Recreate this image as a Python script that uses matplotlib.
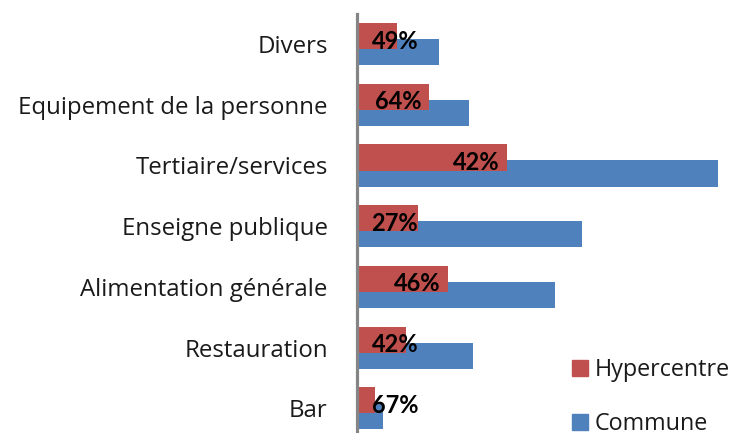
#%% IMPORT

import numpy as np
import matplotlib.pyplot as plt

#%% DONNÉES

categories = ['Divers', 'Equipement de la personne', 'Tertiaire/services',
              'Enseigne publique', 'Alimentation générale', 'Restauration', 'Bar']
hypercentre = [16, 28.8, 60, 24.4, 36.4, 19.6, 7]
commune = [32.8, 44.8, 144.4, 90, 79.2, 46.4, 10.4]

rouge = '#C0504D'
bleu = '#4F81BD'

#%% FIGURE

plt.rcParams['font.family'] = ['Open Sans', 'DejaVu Sans']

fig = plt.figure(figsize=(7.4, 4.33), dpi=100)
W, H = 740, 433
ax = fig.add_axes([357/W, -5.7/H, (730-357)/W, (438.7-13.7)/H])

y = np.arange(len(categories))
ep = 0.43
ax.barh(y + 0.132, commune, height=ep, color=bleu, zorder=2)
ax.barh(y - 0.132, hypercentre, height=ep, color=rouge, zorder=3)

# part de l'hypercentre dans la commune
for i in range(len(categories)):
    part = hypercentre[i] / commune[i] * 100
    xt = max(hypercentre[i] - 3, 24.5)
    ax.text(xt, y[i] - 0.05, '%d%%' % round(part), ha='right', va='center',
            fontsize=17, fontweight='bold', color='black', zorder=4,
            family=['Lato', 'DejaVu Sans'])

ax.set_xlim(0, 149.2)
ax.set_ylim(6.5, -0.5)
ax.set_yticks(y)
ax.set_yticklabels(categories, fontsize=17.3, color='#1a1a1a')
ax.tick_params(axis='y', length=0, pad=21)
ax.set_xticks([])

for s in ['top', 'right', 'bottom']:
    ax.spines[s].set_visible(False)
ax.spines['left'].set_color('#858585')
ax.spines['left'].set_linewidth(2.3)
ax.spines['left'].set_zorder(5)

#%% LÉGENDE

h1 = plt.Rectangle((0, 0), 1, 1, color=rouge)
h2 = plt.Rectangle((0, 0), 1, 1, color=bleu)
fig.legend([h1, h2], ['Hypercentre', 'Commune'], loc='upper left',
           bbox_to_anchor=(572/W, 1 - 358/H), frameon=False, fontsize=16.8,
           handlelength=0.68, handleheight=0.68, handletextpad=0.3,
           labelspacing=1.28, borderpad=0, borderaxespad=0,
           labelcolor='#1a1a1a')

plt.savefig('out.png', dpi=100)
